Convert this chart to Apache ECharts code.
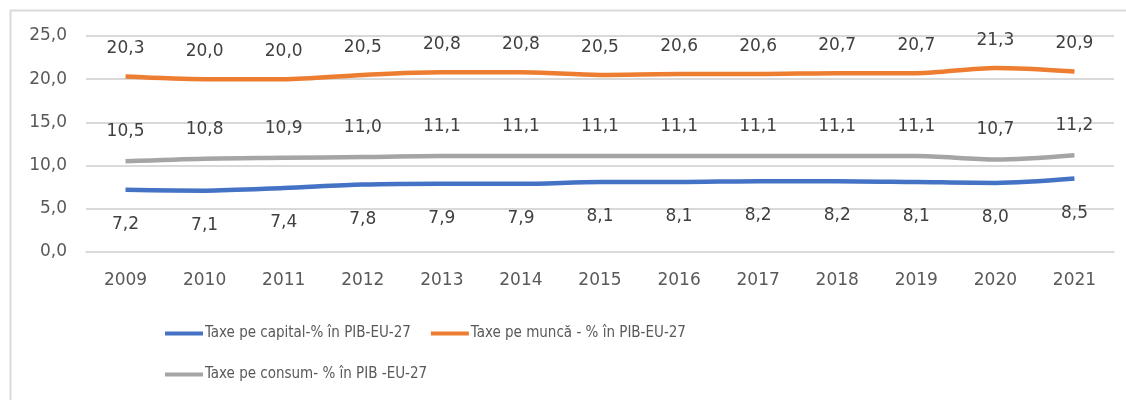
<!DOCTYPE html>
<html>
<head>
<meta charset="utf-8">
<script src="https://cdn.jsdelivr.net/npm/echarts@6/dist/echarts.min.js"></script>
<style>
  html, body { margin: 0; padding: 0; background: #fff; }
  #main { width: 1126px; height: 400px; }
</style>
</head>
<body>
<div id="main"></div>
<script>
var years = ['2009', '2010', '2011', '2012', '2013', '2014', '2015', '2016', '2017', '2018', '2019', '2020', '2021'];
var capital = [7.2, 7.1, 7.4, 7.8, 7.9, 7.9, 8.1, 8.1, 8.2, 8.2, 8.1, 8.0, 8.5];
var munca = [20.3, 20.0, 20.0, 20.5, 20.8, 20.8, 20.5, 20.6, 20.6, 20.7, 20.7, 21.3, 20.9];
var consum = [10.5, 10.8, 10.9, 11.0, 11.1, 11.1, 11.1, 11.1, 11.1, 11.1, 11.1, 10.7, 11.2];
var names = ['Taxe pe capital-% în PIB-EU-27', 'Taxe pe muncă - % în PIB-EU-27', 'Taxe pe consum- % în PIB -EU-27'];

function comma(v) {
  return v.toFixed(1).replace('.', ',');
}

var chart = echarts.init(document.getElementById('main'));

var legendText = { fontFamily: 'Liberation Sans Narrow, DejaVu Sans Condensed, sans-serif', fontSize: 15, color: '#595959', padding: [0, 0, 0, -3] };

function lineSeries(name, data, color, pos, dist) {
  return {
    name: name,
    type: 'line',
    data: data,
    smooth: 0.3,
    symbol: 'circle',
    symbolSize: 0.1,
    lineStyle: { color: color, width: 4.5 },
    itemStyle: { color: color },
    label: {
      show: true,
      position: pos,
      distance: dist,
      fontFamily: 'DejaVu Sans',
      fontSize: 17,
      color: '#404040',
      formatter: function (p) { return comma(p.value); }
    }
  };
}

var legendBase = {
  icon: 'rect',
  itemWidth: 38,
  itemHeight: 4,
  itemGap: 20,
  padding: 0,
  textStyle: legendText
};

var option = {
  animation: false,
  backgroundColor: '#fff',
  graphic: [{
    type: 'rect',
    left: 8,
    top: 8,
    shape: { width: 1140, height: 420 },
    style: { fill: 'none', stroke: '#d9d9d9', lineWidth: 2 },
    silent: true
  }],
  grid: { left: 86, right: 12, top: 36, bottom: 148 },
  legend: [
    Object.assign({ data: [names[0], names[1]], left: 165, top: 326 }, legendBase),
    Object.assign({ data: [names[2]], left: 165, top: 367 }, legendBase)
  ],
  xAxis: {
    type: 'category',
    data: years,
    boundaryGap: true,
    axisLine: { show: true, lineStyle: { color: '#d9d9d9', width: 1.5 } },
    axisTick: { show: false },
    axisLabel: { margin: 20, fontFamily: 'DejaVu Sans', fontSize: 17, color: '#595959' }
  },
  yAxis: {
    type: 'value',
    min: 0,
    max: 25,
    interval: 5,
    axisLine: { show: false },
    axisTick: { show: false },
    splitLine: { lineStyle: { color: '#d9d9d9', width: 2 } },
    axisLabel: {
      margin: 19,
      fontFamily: 'DejaVu Sans',
      fontSize: 17,
      color: '#595959',
      formatter: function (v) { return comma(v); }
    }
  },
  series: [
    lineSeries(names[0], capital, '#4472C4', 'bottom', 26),
    lineSeries(names[1], munca, '#ED7D31', 'top', 19),
    lineSeries(names[2], consum, '#A5A5A5', 'top', 21)
  ]
};

chart.setOption(option);
</script>
</body>
</html>
